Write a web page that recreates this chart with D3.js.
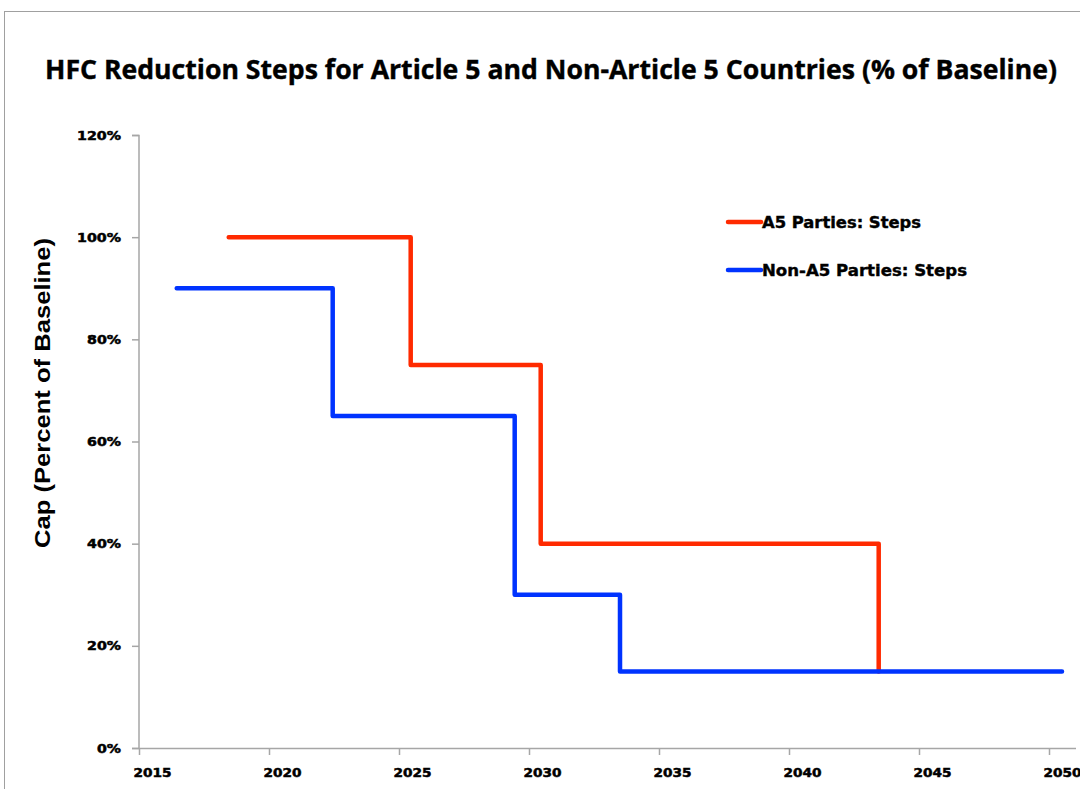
<!DOCTYPE html>
<html><head><meta charset="utf-8">
<script src="https://cdn.jsdelivr.net/npm/d3@7"></script>
<style>body{margin:0;background:#fff}svg{display:block}</style>
</head><body><svg id="c" width="1080" height="789"></svg>
<script>
const title = "HFC Reduction Steps for Article 5 and Non-Article 5 Countries (% of Baseline)";
const yLabel = "Cap (Percent of Baseline)";
const xTicks = [2015, 2020, 2025, 2030, 2035, 2040, 2045, 2050];
const yTicks = [0, 0.2, 0.4, 0.6, 0.8, 1.0, 1.2];
const seriesNames = ["A5 Parties: Steps", "Non-A5 Parties: Steps"];
const a5Years  = [2018.45, 2025.45, 2025.45, 2030.45, 2030.45, 2043.45, 2043.45];
const a5Caps   = [1.00, 1.00, 0.75, 0.75, 0.40, 0.40, 0.15];
const nA5Years = [2016.45, 2022.45, 2022.45, 2029.45, 2029.45, 2033.5, 2033.5, 2050.5];
const nA5Caps  = [0.90, 0.90, 0.65, 0.65, 0.30, 0.30, 0.15, 0.15];
const colors = ["#ff2a00", "#0033ff"];

const svg = d3.select("#c");
svg.append("rect").attr("x",4.5).attr("y",11.5).attr("width",1090).attr("height",800)
  .attr("fill","none").attr("stroke","#a0a0a0").attr("stroke-width",1);

const x = d3.scaleLinear().domain([2015, 2050]).range([139, 1049]);
const y = d3.scaleLinear().domain([0, 1.2]).range([748, 135]);

svg.append("text").attr("x",551).attr("y",79).attr("text-anchor","middle")
  .attr("font-family","Open Sans").attr("font-weight","bold").attr("font-size",26)
  .attr("textLength",1012).attr("lengthAdjust","spacingAndGlyphs")
  .attr("stroke","#000").attr("stroke-width",0.4)
  .attr("fill","#000").text(title);

const yAxis = d3.axisLeft(y).tickValues(yTicks).tickFormat(d3.format(".0%")).tickSize(7).tickPadding(11);
const gy = svg.append("g").attr("transform","translate(139,0)").call(yAxis);
gy.select(".domain").attr("stroke","#a6a6a6").attr("stroke-width",1.5).attr("d","M-7,135.5H0V748.5H-7");
gy.selectAll(".tick line").attr("stroke","#a6a6a6").attr("stroke-width",1.5);
gy.selectAll(".tick text").attr("font-family","DejaVu Sans").attr("font-weight","bold")
  .attr("font-size",12).attr("fill","#000").attr("dy","0.34em")
  .attr("stroke","#000").attr("stroke-width",0.5)
  .each(function(d){ const t=d3.select(this); const s=t.text(); t.attr("textLength", s.length===4?44:(s.length===3?34:24)).attr("lengthAdjust","spacingAndGlyphs"); });

const xAxis = d3.axisBottom(x).tickValues(xTicks).tickFormat(d3.format("d")).tickSize(7).tickPadding(13);
const gx = svg.append("g").attr("transform","translate(0,748)").call(xAxis);
gx.select(".domain").attr("stroke","#a6a6a6").attr("stroke-width",1.5).attr("d","M139,0.5H1076");
gx.selectAll(".tick line").attr("stroke","#a6a6a6").attr("stroke-width",1.5);
gx.selectAll(".tick text").attr("font-family","DejaVu Sans").attr("font-weight","bold")
  .attr("font-size",12).attr("fill","#000").attr("dx",13)
  .attr("stroke","#000").attr("stroke-width",0.5)
  .attr("textLength",38).attr("lengthAdjust","spacingAndGlyphs");

svg.append("text").attr("transform","translate(50,393) rotate(-90)").attr("text-anchor","middle")
  .attr("font-family","Liberation Sans").attr("font-weight","bold").attr("font-size",22)
  .attr("textLength",310).attr("lengthAdjust","spacingAndGlyphs")
  .attr("fill","#000").text(yLabel);

const line = d3.line().x(d=>x(d[0])).y(d=>y(d[1]));
const series = [d3.zip(a5Years, a5Caps), d3.zip(nA5Years, nA5Caps)];
series.forEach((s,i)=>{
  svg.append("path").datum(s).attr("d",line).attr("fill","none")
    .attr("stroke",colors[i]).attr("stroke-width",4.5).attr("stroke-linejoin","round").attr("stroke-linecap","round");
});

const leg = svg.append("g");
seriesNames.forEach((n,i)=>{
  const ly = 222 + i*48;
  leg.append("line").attr("x1",728).attr("x2",761).attr("y1",ly).attr("y2",ly)
    .attr("stroke",colors[i]).attr("stroke-width",4.5).attr("stroke-linecap","round");
  leg.append("text").attr("x",762).attr("y",ly).attr("dy","0.35em")
    .attr("font-family","DejaVu Sans").attr("font-weight","bold").attr("font-size",16)
    .attr("stroke","#000").attr("stroke-width",0.4)
    .attr("textLength", i===0?159:205).attr("lengthAdjust","spacingAndGlyphs")
    .attr("fill","#000").text(n);
});
</script></body></html>
